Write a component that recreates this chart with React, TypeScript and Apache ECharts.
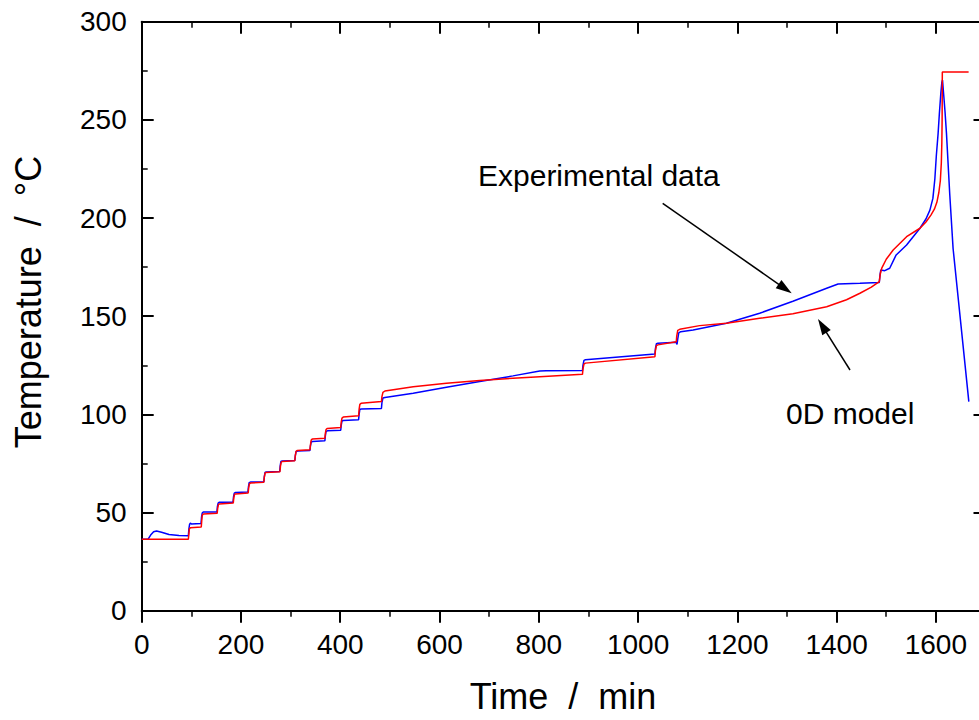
import React, { useEffect, useRef } from "react";
import * as echarts from "echarts";

// 0D model (red)
const modelTime = [
  0, 94, 95, 96, 98, 120, 121, 122, 124, 152, 153, 154.5, 156, 184.5, 185.5, 187, 189,
  214.5, 215.5, 217, 219, 246, 247, 248.5, 250, 278.5, 279.5, 281, 283, 308.5, 309.5, 311,
  313, 339, 340, 341.5, 343.5, 369, 370, 371.5, 373.5, 401, 402, 403.5, 406, 437, 438,
  439.5, 442, 483, 484, 486, 490, 547, 614, 681, 748, 802, 888, 889, 891, 894, 1034, 1035,
  1037, 1040, 1077, 1078, 1080, 1084, 1124, 1178, 1245, 1312, 1380, 1420, 1447, 1470, 1486,
  1488, 1491, 1500, 1514, 1541, 1568, 1580, 1590, 1597, 1602, 1606, 1609, 1611, 1612, 1612.6,
  1613, 1666,
];
const modelTemp = [
  36.4, 36.4, 39, 41.6, 42.2, 42.6, 46, 48.6, 49.2, 49.6, 52, 54, 54.4, 54.9, 57.5, 59.2, 59.5,
  60, 62.5, 64.6, 65, 65.4, 68, 70, 70.4, 70.8, 73.5, 75.6, 76, 76.4, 79, 81.2,
  81.6, 82, 84.5, 86.9, 87.4, 87.8, 90.3, 92.3, 92.8, 93.3, 96, 98.1, 98.6, 99.3, 102.5,
  105.1, 105.6, 106.5, 109, 111.2, 111.9, 114.1, 115.8, 117.2, 118.4, 119.2, 120.4, 123, 125.6, 126.1, 129.4, 132.5,
  135, 135.4, 137, 140, 142.8, 143.3, 145.2, 146.4, 148.9, 151.3, 154.8, 158.4, 161.7, 164.8, 167.6,
  171.5, 174.5, 179, 183.7, 190.5, 194.8, 198, 201.5, 204.5, 208, 213, 219, 228, 238, 250,
  274.4, 274.4,
];

// Experimental data (blue)
const expTime = [
  0, 13, 18, 24, 30, 40, 55, 75, 94, 95, 96.5, 98, 100, 119.5, 120.5, 122, 124, 151.5, 152.5,
  154, 156, 184, 185, 186.5, 189, 214, 215, 216.5, 219, 246, 247, 248.5, 251, 278, 279, 280.5,
  283, 308.5, 309.5, 311, 314, 339, 340, 341.5, 344, 369, 370, 371.5, 374, 401, 402, 403.5,
  406, 437, 438, 439.5, 442, 483, 484, 486, 490, 547, 614, 681, 748, 802, 815, 888, 889, 891,
  894, 1034, 1035, 1037, 1040, 1077, 1078.5, 1080, 1082, 1086, 1111, 1178, 1245, 1312, 1380,
  1403, 1447, 1486, 1487.5, 1489, 1497, 1507, 1520, 1541, 1568, 1580, 1588, 1594, 1598, 1601,
  1604.5, 1607, 1610, 1612, 1613.4, 1616, 1618.5, 1621.4, 1628, 1634.7, 1666.4,
];
const expTemp = [
  36.4, 36.4, 38.5, 40.2, 40.6, 40, 38.8, 38.3, 38.2, 41.5, 44, 44.6, 44.2, 44.4, 47.5, 49.8, 50.3, 50.3, 53,
  54.8, 55.2, 55.3, 58, 59.9, 60.2, 60.4, 63, 65.2, 65.5, 65.6, 68.2, 70.4, 70.7, 70.9, 73.8, 76,
  76.3, 76.5, 79, 81, 81.3, 81.6, 84, 85.9, 86.2, 86.5, 89, 91.3, 91.6, 91.9, 94.5, 96.6,
  96.9, 97.3, 100, 102.5, 102.7, 103, 106, 108.3, 108.6, 110.7, 113.8, 116.7, 119.6, 122.1, 122.2, 122.3, 125, 127.5,
  127.8, 130.8, 133.5, 136, 136.2, 136.7, 135.6, 138.5, 141.5, 142.1, 143, 146.4, 151.5, 157.6, 164.2,
  166.4, 166.8, 167.2, 171, 173.5, 173.2, 174.4, 181.2, 186.3, 194.8, 199.5, 204, 210, 220, 232,
  243, 253, 263.5, 269, 270.3, 262, 254, 243, 212, 184.5, 106.5,
];

const xMin = 0;
const xMax = 1700;
const xMajor = 200;
const xMinor = 100;
const yMin = 0;
const yMax = 300;
const yMajor = 50;
const yMinor = 25;
const lastXLabel = 1600;

const FONT = "'Liberation Sans', Arial, Helvetica, sans-serif";

function arrow(x1: number, y1: number, x2: number, y2: number) {
  const dx = x2 - x1;
  const dy = y2 - y1;
  const len = Math.hypot(dx, dy);
  const ux = dx / len;
  const uy = dy / len;
  const hl = 16;
  const hw = 5;
  const bx = x2 - ux * hl;
  const by = y2 - uy * hl;
  return [
    {
      type: "line",
      shape: { x1, y1, x2: bx + ux * 2, y2: by + uy * 2 },
      style: { stroke: "#000", lineWidth: 1.5 },
      silent: true,
    },
    {
      type: "polygon",
      shape: {
        points: [
          [x2, y2],
          [bx - uy * hw, by + ux * hw],
          [bx + uy * hw, by - ux * hw],
        ],
      },
      style: { fill: "#000" },
      silent: true,
    },
  ];
}

export default function App() {
  const ref = useRef<HTMLDivElement>(null);

  useEffect(() => {
    if (!ref.current) return;
    const chart = echarts.init(ref.current, undefined, { renderer: "svg" });

    const lineStyleAxis = { color: "#000", width: 2 };
    const noSplit = { show: false };

    const xAxes = [
      {
        type: "value",
        position: "bottom",
        min: xMin,
        max: xMax,
        interval: xMajor,
        axisLine: { show: true, onZero: false, lineStyle: lineStyleAxis },
        axisTick: { show: true, inside: false, length: 12, lineStyle: { color: "#000", width: 2 } },
        axisLabel: {
          show: true,
          margin: 20,
          fontSize: 28,
          color: "#000",
          fontFamily: FONT,
          formatter: (v: number) => (v > lastXLabel ? "" : String(v)),
        },
        splitLine: noSplit,
      },
      {
        type: "value",
        position: "bottom",
        min: xMin,
        max: xMax,
        interval: xMinor,
        axisLine: { show: false, onZero: false },
        axisTick: { show: true, inside: false, length: 6, lineStyle: { color: "#000", width: 1.5 } },
        axisLabel: { show: false },
        splitLine: noSplit,
      },
      {
        type: "value",
        position: "top",
        min: xMin,
        max: xMax,
        interval: xMajor,
        axisLine: { show: true, onZero: false, lineStyle: lineStyleAxis },
        axisTick: { show: true, inside: true, length: 12, lineStyle: { color: "#000", width: 2 } },
        axisLabel: { show: false },
        splitLine: noSplit,
      },
      {
        type: "value",
        position: "top",
        min: xMin,
        max: xMax,
        interval: xMinor,
        axisLine: { show: false, onZero: false },
        axisTick: { show: true, inside: true, length: 6, lineStyle: { color: "#000", width: 1.5 } },
        axisLabel: { show: false },
        splitLine: noSplit,
      },
    ];

    const yAxes = [
      {
        type: "value",
        position: "left",
        min: yMin,
        max: yMax,
        interval: yMajor,
        axisLine: { show: true, onZero: false, lineStyle: lineStyleAxis },
        axisTick: { show: true, inside: true, length: 12, lineStyle: { color: "#000", width: 2 } },
        axisLabel: { show: true, margin: 15, fontSize: 28, color: "#000", fontFamily: FONT },
        splitLine: noSplit,
      },
      {
        type: "value",
        position: "left",
        min: yMin,
        max: yMax,
        interval: yMinor,
        axisLine: { show: false, onZero: false },
        axisTick: { show: true, inside: true, length: 6, lineStyle: { color: "#000", width: 1.5 } },
        axisLabel: { show: false },
        splitLine: noSplit,
      },
      {
        type: "value",
        position: "right",
        min: yMin,
        max: yMax,
        interval: yMajor,
        axisLine: { show: true, onZero: false, lineStyle: lineStyleAxis },
        axisTick: { show: true, inside: true, length: 12, lineStyle: { color: "#000", width: 2 } },
        axisLabel: { show: false },
        splitLine: noSplit,
      },
      {
        type: "value",
        position: "right",
        min: yMin,
        max: yMax,
        interval: yMinor,
        axisLine: { show: false, onZero: false },
        axisTick: { show: true, inside: true, length: 6, lineStyle: { color: "#000", width: 1.5 } },
        axisLabel: { show: false },
        splitLine: noSplit,
      },
    ];

    chart.setOption({
      animation: false,
      backgroundColor: "#fff",
      grid: { left: 141.7, top: 21.7, width: 843.8, height: 589, containLabel: false },
      xAxis: xAxes,
      yAxis: yAxes,
      series: [
        {
          type: "line",
          name: "Experimental data",
          xAxisIndex: 0,
          yAxisIndex: 0,
          data: expTime.map((t, i) => [t, expTemp[i]]),
          showSymbol: false,
          symbol: "none",
          smooth: false,
          lineStyle: { color: "#0000ff", width: 1.5 },
          itemStyle: { color: "#0000ff" },
          z: 2,
        },
        {
          type: "line",
          name: "0D model",
          xAxisIndex: 0,
          yAxisIndex: 0,
          data: modelTime.map((t, i) => [t, modelTemp[i]]),
          showSymbol: false,
          symbol: "none",
          smooth: false,
          lineStyle: { color: "#ff0000", width: 1.5 },
          itemStyle: { color: "#ff0000" },
          z: 3,
        },
      ],
      graphic: [
        {
          type: "text",
          x: 563,
          y: 696.5,
          style: {
            text: "Time \u00a0/\u00a0 min",
            font: `36px ${FONT}`,
            fill: "#000",
            textAlign: "center",
            textVerticalAlign: "middle",
          },
          silent: true,
        },
        {
          type: "text",
          x: 28.5,
          y: 302,
          rotation: Math.PI / 2,
          style: {
            text: "Temperature \u00a0/\u00a0 \u00b0C",
            font: `36px ${FONT}`,
            fill: "#000",
            textAlign: "center",
            textVerticalAlign: "middle",
          },
          silent: true,
        },
        {
          type: "text",
          x: 478,
          y: 175.6,
          style: {
            text: "Experimental data",
            font: `30px ${FONT}`,
            fill: "#000",
            textAlign: "left",
            textVerticalAlign: "middle",
          },
          silent: true,
        },
        {
          type: "text",
          x: 786,
          y: 413.6,
          style: {
            text: "0D model",
            font: `30px ${FONT}`,
            fill: "#000",
            textAlign: "left",
            textVerticalAlign: "middle",
          },
          silent: true,
        },
        ...arrow(662.7, 203.3, 791.7, 293.3),
        ...arrow(850, 370, 818, 319),
      ],
    });

    return () => {
      chart.dispose();
    };
  }, []);

  return (
    <div
      style={{
        position: "fixed",
        left: 0,
        top: 0,
        width: 979,
        height: 720,
        overflow: "hidden",
        background: "#fff",
      }}
    >
      <div ref={ref} style={{ width: 1000, height: 720 }} />
    </div>
  );
}
